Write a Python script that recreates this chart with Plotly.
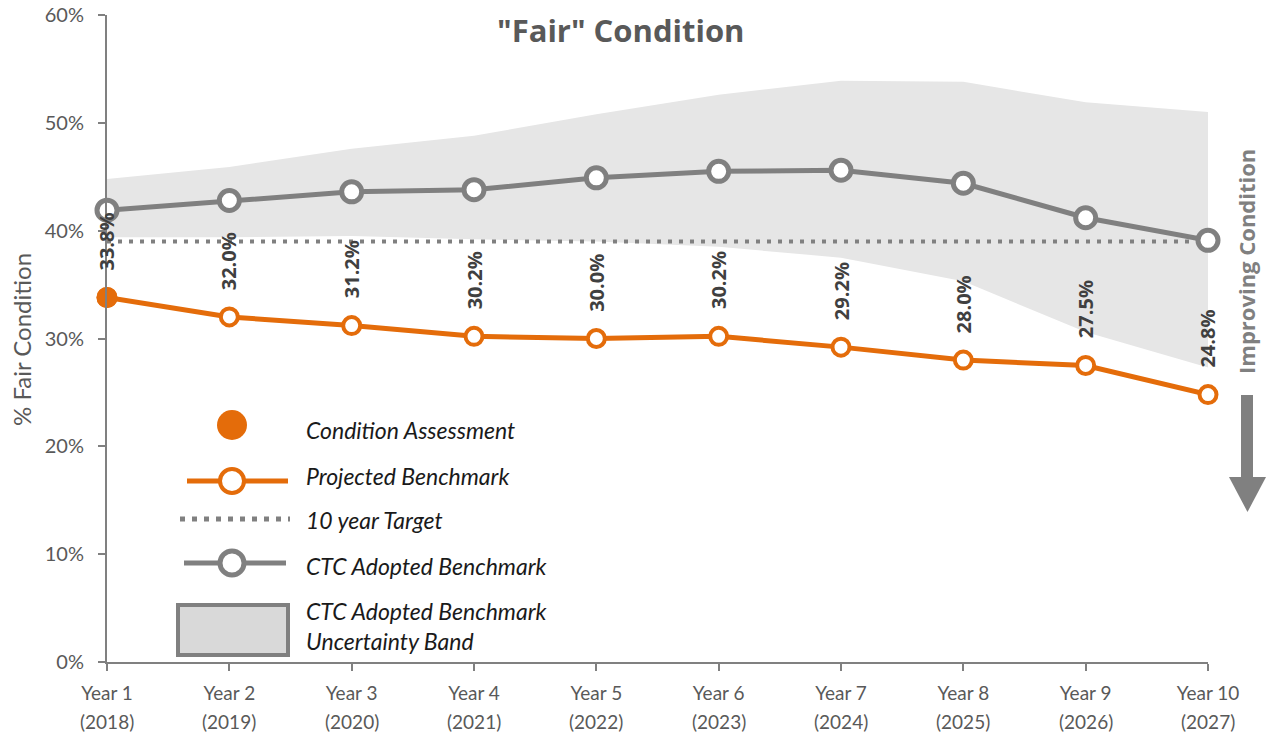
import plotly.graph_objects as go

# ---------------- data ----------------
years = ["Year 1", "Year 2", "Year 3", "Year 4", "Year 5",
         "Year 6", "Year 7", "Year 8", "Year 9", "Year 10"]
calendar = ["(2018)", "(2019)", "(2020)", "(2021)", "(2022)",
            "(2023)", "(2024)", "(2025)", "(2026)", "(2027)"]
projected = [0.338, 0.320, 0.312, 0.302, 0.300, 0.302, 0.292, 0.280, 0.275, 0.248]
assessment = [0.338]          # Year 1 only
ctc_benchmark = [0.419, 0.428, 0.436, 0.438, 0.449, 0.455, 0.456, 0.444, 0.412, 0.391]
band_upper = [0.448, 0.459, 0.476, 0.488, 0.508, 0.526, 0.539, 0.538, 0.519, 0.510]
band_lower = [0.394, 0.394, 0.395, 0.392, 0.390, 0.385, 0.375, 0.353, 0.306, 0.273]
target = [0.39] * len(years)

ORANGE = "#E46C0A"
GRAY = "#808080"
TXT = "#595959"

xs = list(range(len(years)))

# body margin is removed in the page, so figure pixels == page pixels
W, H = 1270, 740
PL, PR, PT, PB = 107, 1208, 15, 662          # plot area in page pixels
L, T = PL, PT
R, B = W - PR, H - PB
PW, PH = PR - PL, PB - PT


def px(xp):
    return (xp - PL) / PW


def py(yp):
    return (PB - yp) / PH


fig = go.Figure()

# uncertainty band
fig.add_trace(go.Scatter(x=xs, y=band_lower, mode="lines", line=dict(width=0),
                         hoverinfo="skip", showlegend=False))
fig.add_trace(go.Scatter(x=xs, y=band_upper, mode="lines", line=dict(width=0),
                         fill="tonexty", fillcolor="#E6E6E6", showlegend=False,
                         name="CTC Adopted Benchmark Uncertainty Band"))
# 10 year target
fig.add_trace(go.Scatter(x=xs, y=target, mode="lines",
                         line=dict(color=GRAY, width=4, dash="4px,7px"),
                         showlegend=False, name="10 year Target"))
# CTC benchmark
fig.add_trace(go.Scatter(x=xs, y=ctc_benchmark, mode="lines+markers",
                         line=dict(color=GRAY, width=5),
                         marker=dict(size=20, color="white", line=dict(color=GRAY, width=5)),
                         cliponaxis=False, showlegend=False, name="CTC Adopted Benchmark"))
# projected benchmark
fig.add_trace(go.Scatter(x=xs, y=projected, mode="lines+markers",
                         line=dict(color=ORANGE, width=5),
                         marker=dict(size=17, color="white", line=dict(color=ORANGE, width=4)),
                         cliponaxis=False, showlegend=False, name="Projected Benchmark"))
# condition assessment
fig.add_trace(go.Scatter(x=xs[:len(assessment)], y=assessment, mode="markers",
                         marker=dict(size=21, color=ORANGE, line=dict(width=0)),
                         cliponaxis=False, showlegend=False, name="Condition Assessment"))

annotations = []
# data labels
for xv, v in zip(xs, projected):
    annotations.append(dict(x=xv, y=v, xref="x", yref="y", text=f"{v*100:.1f}%",
                            showarrow=False, textangle=-90, xanchor="center",
                            yanchor="bottom", yshift=25,
                            font=dict(family="Open Sans", size=20, color="#404040", weight="bold")))

# second line of category labels (calendar year)
for xv, c in zip(xs, calendar):
    annotations.append(dict(x=xv, y=py(721), xref="x", yref="paper", text=c,
                            showarrow=False, xanchor="center", yanchor="middle",
                            font=dict(family="Lato", size=19, color=TXT)))

# title
annotations.append(dict(x=px(621), y=py(30), xref="paper", yref="paper",
                        text='"Fair" Condition', showarrow=False,
                        xanchor="center", yanchor="middle",
                        font=dict(family="Open Sans", size=31, color=TXT, weight="bold")))
# y axis title
annotations.append(dict(x=px(21), y=py(340), xref="paper", yref="paper",
                        text="% Fair Condition", showarrow=False, textangle=-90,
                        xanchor="center", yanchor="middle",
                        font=dict(family="Lato", size=24, color=TXT)))
# Improving condition text
annotations.append(dict(x=px(1246), y=py(262), xref="paper", yref="paper",
                        text="Improving Condition", showarrow=False, textangle=-90,
                        xanchor="center", yanchor="middle",
                        font=dict(family="Open Sans", size=22, color=GRAY, weight="bold")))

# legend texts
leg_font = dict(family="Lato", size=23, color="#1a1a1a", style="italic")
for label, yp in [("Condition Assessment", 430), ("Projected Benchmark", 476),
                  ("10 year Target", 520), ("CTC Adopted Benchmark", 566),
                  ("CTC Adopted Benchmark", 611), ("Uncertainty Band", 641)]:
    annotations.append(dict(x=px(304), y=py(yp), xref="paper", yref="paper", text=label,
                            showarrow=False, xanchor="left", yanchor="middle", font=leg_font))

shapes = []


def circle(cx, cy, d, fill, line_color, lw):
    return dict(type="circle", xref="paper", yref="paper", xsizemode="pixel", ysizemode="pixel",
                xanchor=px(cx), yanchor=py(cy), x0=-d / 2, x1=d / 2, y0=-d / 2, y1=d / 2,
                fillcolor=fill, line=dict(color=line_color, width=lw))


def hline(x0, x1, yv, color, w, dash="solid"):
    return dict(type="line", xref="paper", yref="paper", x0=px(x0), x1=px(x1),
                y0=py(yv), y1=py(yv), line=dict(color=color, width=w, dash=dash))


# legend symbols
shapes.append(circle(232, 425, 30, ORANGE, ORANGE, 0))
shapes.append(hline(187, 288, 481, ORANGE, 5))
shapes.append(circle(232, 481, 24, "white", ORANGE, 4))
shapes.append(hline(180, 290, 519, GRAY, 5, "5px,7px"))
shapes.append(hline(184, 286, 563, GRAY, 5))
shapes.append(circle(232, 563, 24, "white", GRAY, 5))
shapes.append(dict(type="rect", xref="paper", yref="paper", x0=px(178), x1=px(288),
                   y0=py(655), y1=py(605), fillcolor="#D9D9D9", line=dict(color=GRAY, width=4)))

# improving-condition arrow
shapes.append(dict(type="rect", xref="paper", yref="paper", x0=px(1241), x1=px(1253),
                   y0=py(478), y1=py(395), fillcolor=GRAY, line=dict(width=0)))
shapes.append(dict(type="path", xref="paper", yref="paper",
                   path=f"M {px(1229)} {py(477)} L {px(1266)} {py(477)} L {px(1247.5)} {py(512)} Z",
                   fillcolor=GRAY, line=dict(width=0)))

fig.update_layout(
    width=W, height=H,
    margin=dict(l=L, r=R, t=T, b=B, autoexpand=False),
    paper_bgcolor="white", plot_bgcolor="white",
    showlegend=False,
    annotations=annotations,
    shapes=shapes,
    font=dict(family="Lato", color=TXT),
)
fig.update_xaxes(range=[0, 9], tickvals=xs, ticktext=years, showgrid=False, zeroline=False,
                 showline=True, linecolor=GRAY, linewidth=2, ticks="outside", ticklen=7,
                 tickcolor=GRAY, tickwidth=2, automargin=False, ticklabelstandoff=6,
                 ticklabeloverflow="allow",
                 tickfont=dict(family="Lato", size=19, color=TXT))
fig.update_yaxes(range=[0, 0.6], dtick=0.1, tickformat=".0%", showgrid=False, zeroline=False,
                 showline=True, linecolor=GRAY, linewidth=2, ticks="outside", ticklen=7,
                 tickcolor=GRAY, tickwidth=2, automargin=False, ticklabelstandoff=10,
                 ticklabeloverflow="allow",
                 tickfont=dict(family="Lato", size=20, color=TXT))

fig.write_html("out.html", config={"displayModeBar": False},
               post_script="document.body.style.margin='0px';document.body.style.overflow='hidden';")
